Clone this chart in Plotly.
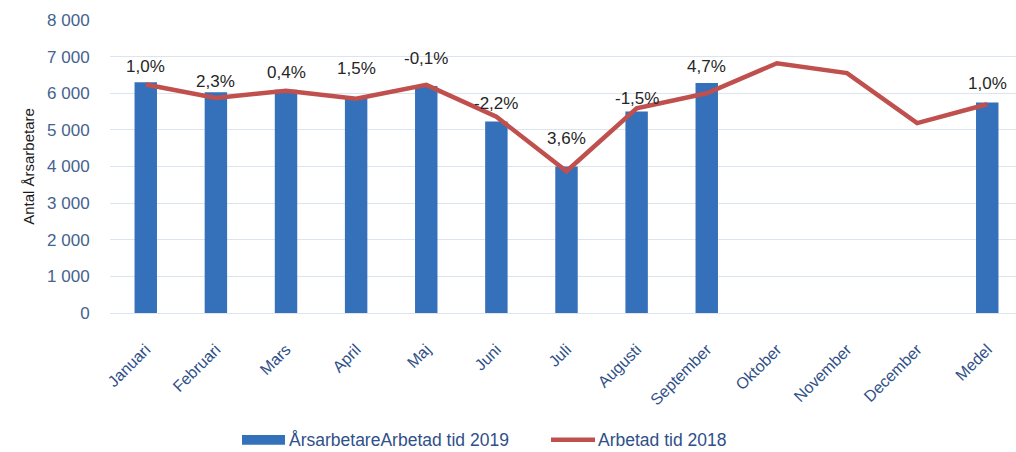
import plotly.graph_objects as go

categories = ["Januari", "Februari", "Mars", "April", "Maj", "Juni", "Juli",
              "Augusti", "September", "Oktober", "November", "December", "Medel"]
arsarbetare_2019 = [6300, 6030, 6095, 5900, 6200, 5230, 4000, 5500, 6280, None, None, None, 5750]
arbetad_2018 = [6240, 5870, 6070, 5850, 6230, 5360, 3870, 5590, 6000, 6820, 6550, 5185, 5700]
pct_labels = ["1,0%", "2,3%", "0,4%", "1,5%", "-0,1%", "-2,2%", "3,6%",
              "-1,5%", "4,7%", None, None, None, "1,0%"]
label_offsets = [16, 11, 17, 28, 27, 18, 28, 13, 17, 0, 0, 0, 19]
y_ticks = [0, 1000, 2000, 3000, 4000, 5000, 6000, 7000, 8000]

FONT = "Liberation Sans Narrow, Arial Narrow, Liberation Sans, sans-serif"
BAR_COLOR = "#3570BA"
LINE_COLOR = "#C0504D"
TICK_COLOR = "#44638F"
XLAB_COLOR = "#2F5088"

fig = go.Figure()
fig.add_trace(go.Bar(
    x=categories, y=arsarbetare_2019, name="ÅrsarbetareArbetad tid 2019",
    marker=dict(color=BAR_COLOR, line=dict(width=0)), width=0.32,
    showlegend=False, hoverinfo="x+y",
))
fig.add_trace(go.Scatter(
    x=categories, y=arbetad_2018, name="Arbetad tid 2018", mode="lines",
    line=dict(color=LINE_COLOR, width=4.5), showlegend=False,
))

for cat, val, lab, off in zip(categories, arsarbetare_2019, pct_labels, label_offsets):
    if lab is None or val is None:
        continue
    fig.add_annotation(x=cat, y=val, text=lab, showarrow=False,
                       yanchor="middle", yshift=off,
                       font=dict(family=FONT, size=17, color="#262626"))

# custom legend
LEG_Y = -0.433
fig.add_shape(type="rect", xref="paper", yref="paper", x0=(242 - 110) / 906, x1=(285 - 110) / 906,
              y0=LEG_Y - 0.017, y1=LEG_Y + 0.017, fillcolor=BAR_COLOR, line=dict(width=0), layer="above")
fig.add_annotation(xref="paper", yref="paper", x=(287 - 110) / 906, y=LEG_Y, xanchor="left",
                   yanchor="middle", showarrow=False, text="ÅrsarbetareArbetad tid 2019",
                   font=dict(family=FONT, size=17.5, color=XLAB_COLOR))
fig.add_shape(type="line", xref="paper", yref="paper", x0=(551 - 110) / 906, x1=(595 - 110) / 906,
              y0=LEG_Y, y1=LEG_Y, line=dict(color=LINE_COLOR, width=4.5))
fig.add_annotation(xref="paper", yref="paper", x=(596 - 110) / 906, y=LEG_Y, xanchor="left",
                   yanchor="middle", showarrow=False, text="Arbetad tid 2018",
                   font=dict(family=FONT, size=17.5, color=XLAB_COLOR))

fig.update_layout(
    width=1016, height=452,
    margin=dict(l=110, r=0, t=20, b=139),
    paper_bgcolor="white", plot_bgcolor="white",
    separators=", ",
    font=dict(family=FONT),
    xaxis=dict(
        type="category", range=[-0.51, 12.41], tickangle=-45,
        tickfont=dict(family=FONT, size=16, color=XLAB_COLOR),
        showgrid=False, showline=False, zeroline=False,
        ticks="outside", ticklen=20, tickcolor="rgba(0,0,0,0)",
    ),
    yaxis=dict(
        range=[0, 8000], tickvals=y_ticks, tickformat=",d",
        tickfont=dict(family=FONT, size=17, color=TICK_COLOR),
        showgrid=True, gridcolor="#DCE4F0", gridwidth=1,
        zeroline=True, zerolinecolor="#DCE4F0", zerolinewidth=1,
        showline=False, ticks="outside", ticklen=16, tickcolor="rgba(0,0,0,0)",
        title=dict(text="Antal Årsarbetare", standoff=8,
                   font=dict(family="Liberation Sans, Arial, sans-serif", size=15, color="#1a1a1a")),
    ),
    bargap=0.68,
)

fig.write_html("out.html", config={"displayModeBar": False},
               post_script="document.body.style.margin='0';document.body.style.overflow='hidden';")
